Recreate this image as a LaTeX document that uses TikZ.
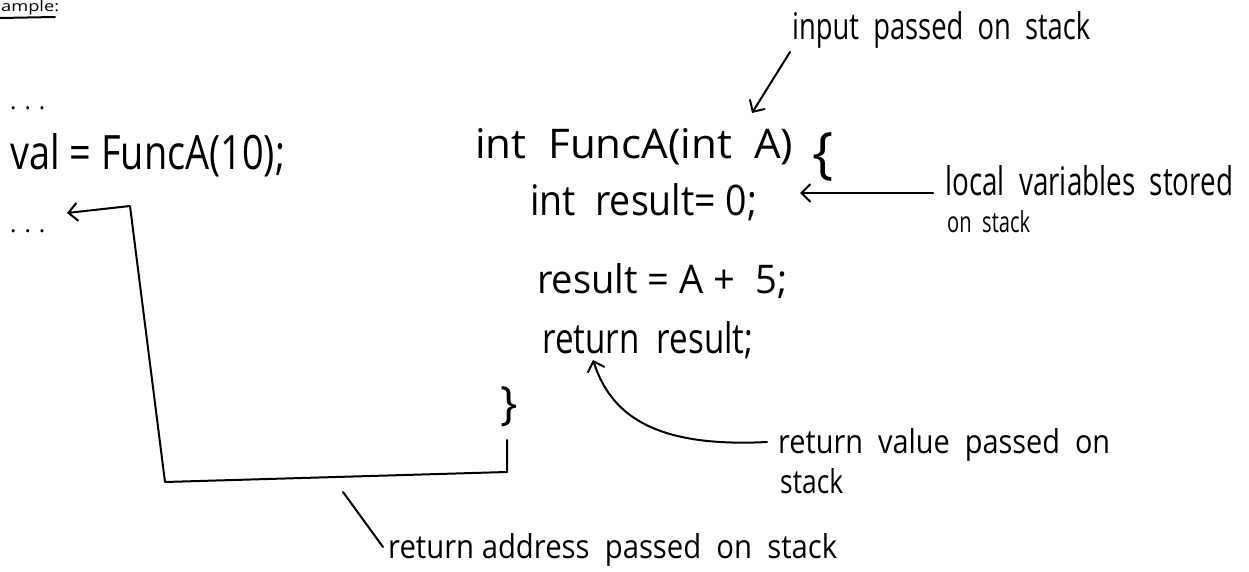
\documentclass[tikz,border=0pt]{standalone}
\usepackage{fontspec}
\setmainfont{Open Sans}
\usetikzlibrary{arrows.meta}
\tikzset{
  hw/.style={inner sep=0pt, anchor=base west, font=\fontsize{30}{36}\selectfont},
  ink/.style={line width=2pt, line cap=round, line join=round},
  barb/.style={-{Straight Barb[length=9pt,width=18pt,line width=2pt]}}
}
\newcommand\fitbox[3]{\resizebox{#1pt}{#2pt}{#3}}
\begin{document}
\begin{tikzpicture}[x=1pt,y={(0pt,-1pt)}]
\useasboundingbox (0,0) rectangle (1249,572);
% heading
\node[hw] (ex) at (1,12) {\fitbox{58}{11}{ample:}};
\draw[ink] (ex.base west) ++(-1,6) -- ++(55,-1);
% caller
\node[hw, font=\fontsize{24}{28}\selectfont] (dots1) at (10,110) {.\,\,.\,\,.};
\node[hw] (call) at (10,170) {\fitbox{275}{36}{val\ =\ FuncA(10);}};
\node[hw, font=\fontsize{24}{28}\selectfont] (dots2) at (10,232) {.\,\,.\,\,.};
% callee
\node[hw] (sig) at (475,158) {\fitbox{318}{30}{int\ \ FuncA(int\ \ A)}};
\node[hw, font=\fontsize{56}{60}\selectfont] (open) at (812,173) {\{};
\node[hw] (l2) at (530,215) {\fitbox{227}{32}{int\ \ result=\ 0;}};
\node[hw] (l3) at (537,293) {\fitbox{250}{30}{result\ =\ A\ +\ \ 5;}};
\node[hw] (l4) at (542,353) {\fitbox{211}{32}{return\ \ result;}};
\node[hw, font=\fontsize{46}{50}\selectfont] (close) at (500,419) {\}};
% labels
\node[hw] (inlbl) at (792,40) {\fitbox{298}{28}{input\ \ passed\ \ on\ \ stack}};
\node[hw] (loc1) at (945,196) {\fitbox{288}{30}{local\ \ variables\ \ stored}};
\node[hw] (loc2) at (947,232) {\fitbox{83}{22}{on\ \ stack}};
\node[hw] (rv1) at (778,453) {\fitbox{332}{25}{return\ \ value\ \ passed\ \ on}};
\node[hw] (rv2) at (780,493) {\fitbox{63}{25}{stack}};
\node[hw] (ra) at (388,558) {\fitbox{449}{25}{return\ address\ \ passed\ \ on\ \ stack}};
% connector end points
\coordinate (inTip) at (752,113);
\coordinate (locTip) at (800,193);
\coordinate (rvTip) at (593,360);
\coordinate (rs) at (507,440);
\coordinate (rc1) at (507,472);
\coordinate (rc2) at (165,482);
\coordinate (rc3) at (130,206);
\coordinate (retTip) at (67,213);
% connectors
\draw[ink,barb] ([shift={(-2,12)}]inlbl.base west) -- (inTip);
\draw[ink,barb] ([shift={(-12,-3)}]loc1.base west) -- (locTip);
\draw[ink,barb] ([shift={(-11,-11)}]rv1.base west) .. controls (650,448) and (610,412) .. (rvTip);
\draw[ink,barb] (rs) -- (rc1) -- (rc2) -- (rc3) -- (retTip);
\draw[ink] ([shift={(-45,-66)}]ra.base west) -- ([shift={(-5,-11)}]ra.base west);
\end{tikzpicture}
\end{document}
